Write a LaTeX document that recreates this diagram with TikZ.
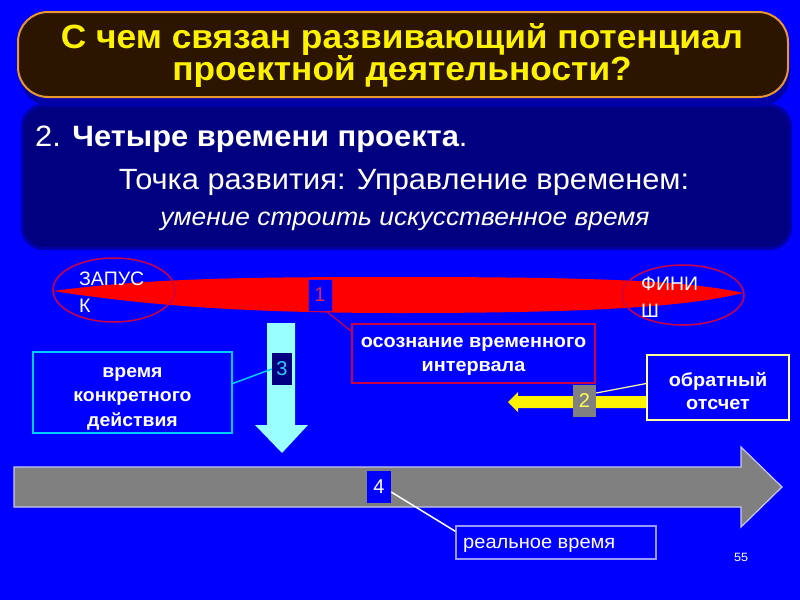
\documentclass[tikz,border=0pt]{standalone}
\usepackage{fontspec}
\setmainfont{Liberation Sans}[FakeStretch=1.05]
\newfontfamily\plainfont{Liberation Sans}
\usetikzlibrary{calc}
\definecolor{bgblue}{HTML}{0000FF}
\definecolor{shadowblue}{HTML}{0000A8}
\definecolor{titlebrown}{HTML}{2B1400}
\definecolor{titleorange}{HTML}{E8962E}
\definecolor{navybox}{HTML}{000080}
\definecolor{crim}{HTML}{CC0044}
\definecolor{cyanarrow}{HTML}{99FFFF}
\definecolor{cyanline}{HTML}{00CCFF}
\definecolor{lightyellow}{HTML}{FFFF99}
\definecolor{numyellow}{HTML}{FFFF55}
\definecolor{greyarrow}{HTML}{808080}
\definecolor{lavender}{HTML}{C8C8F0}
\definecolor{lavbox}{HTML}{9999FF}
\definecolor{numred}{HTML}{DD2255}
\definecolor{numcyan}{HTML}{33CCFF}
\tikzset{
  framebox/.style={draw, line width=1.5pt, fill=bgblue, inner sep=0pt},
  boxtext/.style={text=white, align=center, inner sep=0pt, font=\fontsize{18.9}{24.5}\selectfont\bfseries},
  numbox/.style={inner sep=0pt, font=\plainfont\fontsize{20}{22}\selectfont},
  endtext/.style={text=white, align=left, inner sep=0pt, anchor=north west, font=\plainfont\fontsize{19.5}{27}\selectfont}
}
\begin{document}
\begin{tikzpicture}[x=1pt,y=-1pt]
\fill[bgblue] (0,0) rectangle (800,600);
\useasboundingbox (0,0) rectangle (800,600);
% title
\fill[shadowblue, rounded corners=30] (20,20) rectangle (790,106);
\draw[rounded corners=30, fill=titlebrown, draw=titleorange, line width=2pt] (18,12) rectangle (788,97);
\node[text=yellow, align=center, font=\fontsize{33.6}{32}\selectfont\bfseries] (title) at (402,55.5)
  {С чем связан развивающий потенциал\\проектной деятельности?};
% second box
\fill[shadowblue, rounded corners=22] (21,104) rectangle (792,250);
\fill[navybox, rounded corners=20] (24,107) rectangle (789,247);
\node[anchor=west, text=white, inner sep=0pt, font=\fontsize{29.4}{32}\selectfont] (t1) at (35,139)
  {2. \textbf{Четыре времени проекта}.};
\node[text=white, font=\fontsize{29.3}{32}\selectfont] (t2) at (404,182)
  {Точка развития: Управление временем:};
\node[text=white, font=\fontsize{25.1}{28}\selectfont\itshape] (t3) at (405,221)
  {умение строить искусственное время};
% red lens
\fill[red] (53,291) .. controls (150,278) and (250,277) .. (400,277)
  .. controls (600,277) and (690,281) .. (743,293)
  .. controls (690,306) and (600,313) .. (400,313)
  .. controls (250,313) and (150,306) .. (53,291) -- cycle;
\draw[crim, line width=1.5pt] (114,290) ellipse [x radius=61, y radius=32];
\draw[crim, line width=1.5pt] (683,295) ellipse [x radius=61, y radius=30];
\node[endtext] (start) at (79,272) {ЗАПУС\\К};
\node[endtext] (finish) at (641,277) {ФИНИ\\Ш};
% box 1 and label
\node[numbox, draw=crim, line width=0.8pt, fill=bgblue, text=numred, minimum width=24, minimum height=32] (b1) at (320,295) {1};
\node[framebox, draw=crim, minimum width=243, minimum height=59] (osozn) at (473.5,353.5) {};
\node[boxtext] (osozntext) at (473.5,356.5) {осознание временного\\интервала};
\draw[crim, line width=1.2pt] ($(b1.south east)+(-6,0)$) -- ($(osozn.north west)+(0,8)$);
% cyan arrow
\fill[cyanarrow] (267,323) -- (295,323) -- (295,425) -- (308,425) -- (282,453) -- (255,425) -- (267,425) -- cycle;
\node[numbox, fill=navybox, text=numcyan, minimum width=20, minimum height=32] (b3) at (282,369) {3};
\node[framebox, draw=cyanline, minimum width=199, minimum height=81] (vremya) at (132.5,392.5) {};
\node[boxtext, font=\fontsize{18.5}{24.5}\selectfont\bfseries] (vremyatext) at (132.5,398.5) {время\\конкретного\\действия};
\draw[cyanline, line width=1.5pt] ($(vremya.east)+(0,-9)$) -- (b3.west);
% yellow arrow
\fill[yellow] (650,396) -- (518,396) -- (518,392) -- (508,402) -- (518,412) -- (518,408) -- (650,408) -- cycle;
\node[numbox, fill=greyarrow, text=numyellow, minimum width=23, minimum height=32] (b2) at (584.5,401) {2};
\node[framebox, draw=lightyellow, minimum width=142, minimum height=65] (obrat) at (718,387.5) {};
\node[boxtext, font=\fontsize{18.9}{23}\selectfont\bfseries] (obrattext) at (718,391.5) {обратный\\отсчет};
\draw[lightyellow, line width=1.2pt] ($(b2.east)+(0,-8)$) -- ($(obrat.west)+(0,-4)$);
% grey arrow
\draw[lavender, fill=greyarrow, line width=1.2pt] (14,467) -- (741,467) -- (741,447) -- (782,487) -- (741,527) -- (741,507) -- (14,507) -- cycle;
\node[numbox, fill=bgblue, text=white, minimum width=24, minimum height=32] (b4) at (379,487) {4};
\node[framebox, draw=lavbox, minimum width=200, minimum height=33] (real) at (556,542.5) {};
\node[anchor=west, text=white, inner sep=0pt, font=\fontsize{19.1}{22}\selectfont] (realtext) at (463,545) {реальное время};
\draw[white, line width=1.5pt] ($(b4.east)+(0,5)$) -- ($(real.north west)+(0,6)$);
\node[text=white, inner sep=0pt, font=\fontsize{12}{14}\selectfont] (pnum) at (741,557) {55};
\end{tikzpicture}
\end{document}
